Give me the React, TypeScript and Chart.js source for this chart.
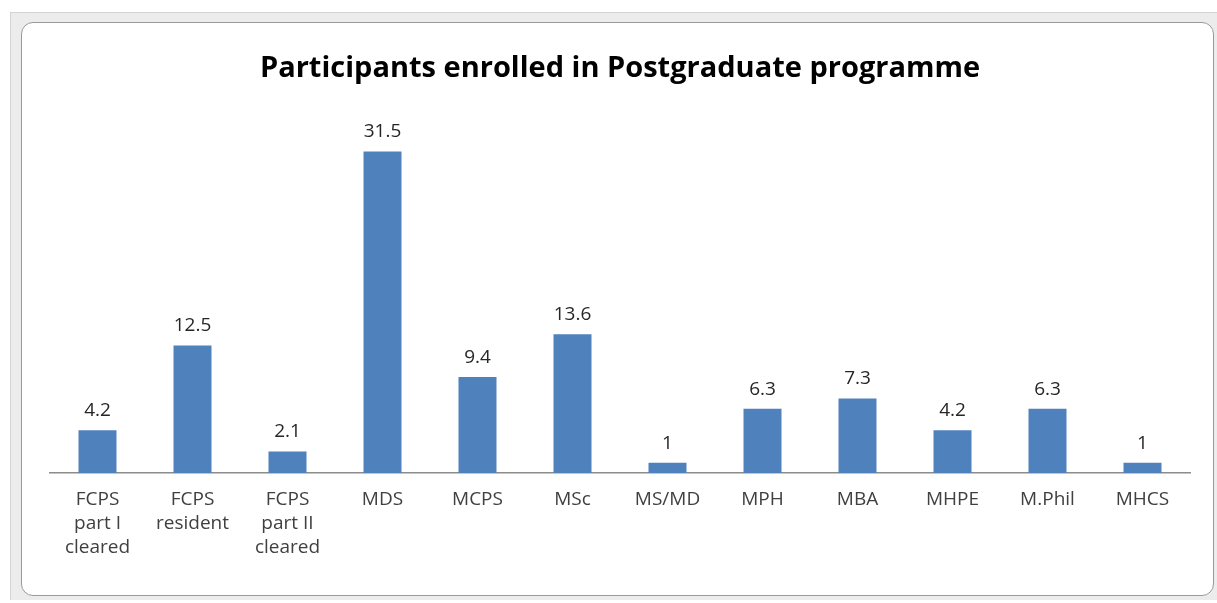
import React, { useEffect, useRef } from "react";
import { Chart, registerables } from "chart.js";

Chart.register(...registerables);

const TITLE = "Participants enrolled in Postgraduate programme";
const categories: string[][] = [
  ["FCPS", "part I", "cleared"],
  ["FCPS", "resident"],
  ["FCPS", "part II", "cleared"],
  ["MDS"],
  ["MCPS"],
  ["MSc"],
  ["MS/MD"],
  ["MPH"],
  ["MBA"],
  ["MHPE"],
  ["M.Phil"],
  ["MHCS"],
];
const values: number[] = [4.2, 12.5, 2.1, 31.5, 9.4, 13.6, 1, 6.3, 7.3, 4.2, 6.3, 1];
const yMax = 35;

const FONT = "'Open Sans', 'DejaVu Sans', sans-serif";

const dataLabelPlugin = {
  id: "dataLabels",
  afterDatasetsDraw(chart: any) {
    const ctx = chart.ctx;
    const meta = chart.getDatasetMeta(0);
    ctx.save();
    ctx.font = `19px ${FONT}`;
    ctx.fillStyle = "#262626";
    ctx.textAlign = "center";
    ctx.textBaseline = "bottom";
    meta.data.forEach((bar: any, i: number) => {
      ctx.fillText(String(values[i]), bar.x, bar.y - 10);
    });
    ctx.restore();
  },
};

export default function App() {
  const ref = useRef<HTMLCanvasElement>(null);
  useEffect(() => {
    if (!ref.current) return;
    const chart = new Chart(ref.current, {
      type: "bar",
      data: {
        labels: categories,
        datasets: [
          {
            data: values,
            backgroundColor: "#4F81BD",
            borderWidth: 0,
            barPercentage: 0.4,
            categoryPercentage: 1,
          },
        ],
      },
      options: {
        animation: false,
        responsive: false,
        maintainAspectRatio: false,
        layout: { padding: { left: 50, right: 27, top: 0, bottom: 28 } },
        plugins: {
          legend: { display: false },
          tooltip: { enabled: false },
          title: {
            display: true,
            text: TITLE,
            color: "#000000",
            font: { family: FONT, size: 29, weight: "bold", lineHeight: 1.2 },
            padding: { top: 51, bottom: 30 },
          },
        },
        scales: {
          y: { display: false, min: 0, max: yMax },
          x: {
            grid: { display: false, drawTicks: false },
            border: { display: true, color: "#8c8c8c", width: 1.5 },
            ticks: {
              color: "#404040",
              font: { family: FONT, size: 19, lineHeight: 24 / 19 },
              padding: 15,
              maxRotation: 0,
              autoSkip: false,
            },
          },
        },
      },
      plugins: [dataLabelPlugin],
    });
    return () => chart.destroy();
  }, []);

  return (
    <div style={{ position: "fixed", left: 0, top: 0, width: 1217, height: 603, background: "#ffffff" }}>
      <div
        style={{
          position: "absolute",
          left: 10,
          top: 12,
          width: 1207,
          height: 588,
          background: "#ececec",
          borderLeft: "1px solid #d4d4d4",
          borderTop: "1px solid #d4d4d4",
          boxSizing: "border-box",
        }}
      />
      <div
        style={{
          position: "absolute",
          left: 21,
          top: 22,
          width: 1193,
          height: 574,
          background: "#ffffff",
          border: "1px solid #9a9a9a",
          borderRadius: 12,
          boxSizing: "border-box",
        }}
      />
      <canvas ref={ref} width={1217} height={603} style={{ position: "absolute", left: 0, top: 0 }} />
    </div>
  );
}
